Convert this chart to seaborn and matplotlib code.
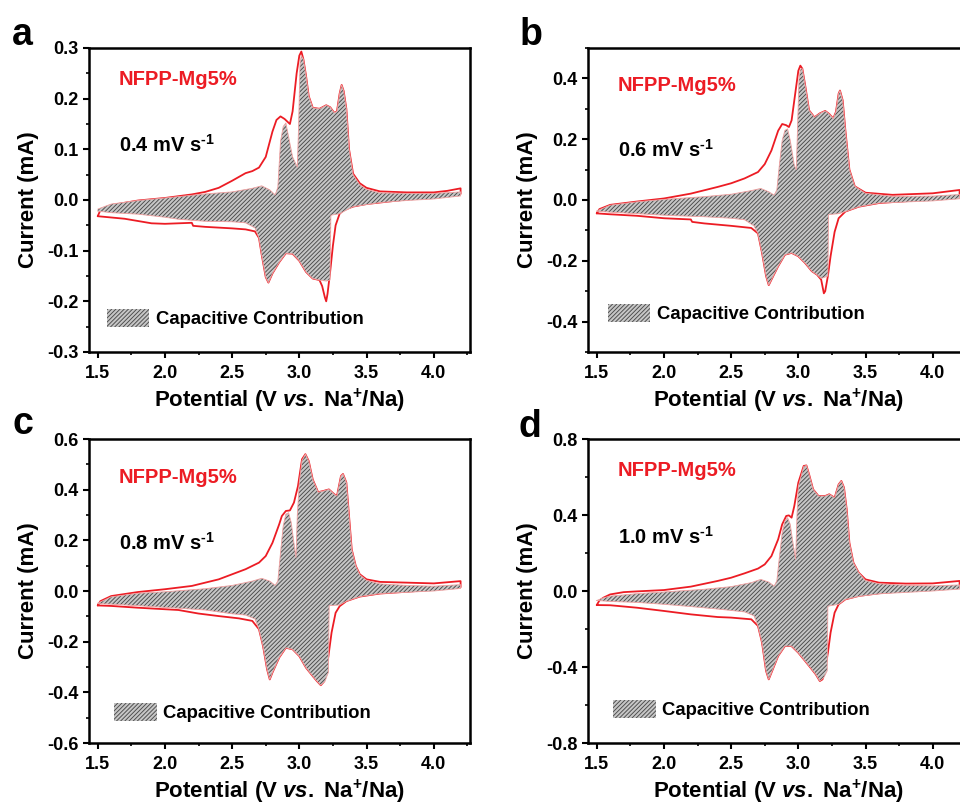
import matplotlib
matplotlib.use("Agg")
import matplotlib.pyplot as plt
import seaborn as sns
from matplotlib.patches import Patch
from matplotlib.ticker import MultipleLocator, FormatStrFormatter

# ---------------- CV data (potential in V, current in mA) ----------------
# Each loop: anodic sweep 1.5 -> 4.2 V followed by cathodic sweep 4.2 -> 1.5 V.

# 0.4 mV s-1
a_cv_v = [1.50, 1.52, 1.60, 1.80, 2.00, 2.20, 2.30, 2.40, 2.50, 2.60, 2.65, 2.70, 2.75, 2.80,
          2.83, 2.86, 2.89, 2.93, 2.95, 2.98, 3.00, 3.015, 3.03, 3.05, 3.07, 3.10, 3.15, 3.20,
          3.23, 3.26, 3.28, 3.30, 3.315, 3.33, 3.35, 3.37, 3.40, 3.45, 3.50, 3.60, 3.80, 4.00,
          4.10, 4.20,
          4.20, 4.00, 3.80, 3.60, 3.50, 3.40, 3.33, 3.30, 3.27, 3.25, 3.23, 3.21, 3.20, 3.19,
          3.17, 3.15, 3.10, 3.05, 3.00, 2.95, 2.90, 2.85, 2.80, 2.77, 2.75, 2.72, 2.70, 2.67,
          2.60, 2.50, 2.30, 2.21, 2.20, 2.00, 1.90, 1.70, 1.50]
a_cv_i = [-0.032, -0.020, -0.010, -0.001, 0.004, 0.011, 0.016, 0.024, 0.038, 0.053, 0.057, 0.064,
          0.085, 0.135, 0.158, 0.165, 0.160, 0.150, 0.175, 0.250, 0.285, 0.293, 0.278, 0.245,
          0.205, 0.182, 0.180, 0.187, 0.183, 0.172, 0.175, 0.210, 0.227, 0.215, 0.180, 0.100,
          0.052, 0.033, 0.024, 0.017, 0.015, 0.015, 0.018, 0.023,
          0.012, 0.006, 0.001, -0.005, -0.008, -0.013, -0.020, -0.027, -0.050, -0.090, -0.140,
          -0.185, -0.200, -0.192, -0.170, -0.158, -0.155, -0.142, -0.120, -0.106, -0.105,
          -0.123, -0.145, -0.163, -0.152, -0.108, -0.075, -0.062, -0.058, -0.056, -0.053,
          -0.051, -0.045, -0.047, -0.046, -0.037, -0.032]
a_cap_v = [1.50, 1.60, 1.80, 2.00, 2.30, 2.50, 2.65, 2.72, 2.78, 2.82, 2.84, 2.86, 2.88, 2.90,
           2.92, 2.95, 2.985, 2.995, 3.005, 3.015, 3.03, 3.05, 3.07, 3.10, 3.15, 3.20, 3.23,
           3.26, 3.28, 3.30, 3.315, 3.33, 3.35, 3.37, 3.40, 3.45, 3.50, 3.60, 3.80, 4.00, 4.20,
           4.20, 4.00, 3.80, 3.60, 3.40, 3.30, 3.235, 3.228, 3.20, 3.15, 3.10, 3.05, 3.00,
           2.95, 2.90, 2.85, 2.80, 2.77, 2.75, 2.72, 2.70, 2.67, 2.60, 2.50, 2.30, 2.10, 2.00,
           1.80, 1.60, 1.50]
a_cap_i = [-0.018, -0.008, -0.001, 0.004, 0.012, 0.016, 0.023, 0.028, 0.020, 0.010, 0.025,
           0.115, 0.145, 0.152, 0.125, 0.085, 0.065, 0.150, 0.270, 0.285, 0.278, 0.245, 0.205,
           0.182, 0.180, 0.187, 0.183, 0.172, 0.175, 0.210, 0.227, 0.215, 0.180, 0.100, 0.050,
           0.030, 0.021, 0.014, 0.013, 0.013, 0.016,
           0.008, 0.002, -0.001, -0.005, -0.013, -0.027, -0.030, -0.158, -0.160, -0.158,
           -0.155, -0.142, -0.120, -0.106, -0.105, -0.123, -0.145, -0.163, -0.152, -0.108,
           -0.075, -0.055, -0.045, -0.043, -0.042, -0.038, -0.034, -0.028, -0.025, -0.022]

# 0.6 mV s-1
b_cv_v = [1.50, 1.52, 1.60, 1.80, 2.00, 2.20, 2.40, 2.50, 2.60, 2.70, 2.75, 2.80, 2.85, 2.88,
          2.91, 2.93, 2.95, 2.98, 3.00, 3.015, 3.03, 3.05, 3.08, 3.12, 3.16, 3.20, 3.23, 3.26,
          3.28, 3.30, 3.31, 3.33, 3.35, 3.38, 3.42, 3.50, 3.70, 4.00, 4.20,
          4.20, 4.00, 3.80, 3.60, 3.45, 3.35, 3.30, 3.27, 3.24, 3.22, 3.20, 3.19, 3.17, 3.14,
          3.10, 3.05, 3.00, 2.95, 2.90, 2.85, 2.80, 2.78, 2.76, 2.73, 2.70, 2.65, 2.50, 2.30,
          2.21, 2.20, 2.00, 1.80, 1.60, 1.50]
b_cv_i = [-0.044, -0.030, -0.016, -0.005, 0.005, 0.021, 0.043, 0.055, 0.071, 0.092, 0.118,
          0.163, 0.228, 0.250, 0.246, 0.240, 0.262, 0.360, 0.425, 0.442, 0.432, 0.380, 0.295,
          0.272, 0.285, 0.293, 0.283, 0.268, 0.290, 0.350, 0.360, 0.328, 0.230, 0.100, 0.045,
          0.024, 0.017, 0.022, 0.033,
          0.012, 0.004, -0.004, -0.010, -0.022, -0.038, -0.060, -0.105, -0.185, -0.250, -0.300,
          -0.307, -0.262, -0.246, -0.234, -0.207, -0.185, -0.174, -0.180, -0.218, -0.262,
          -0.280, -0.250, -0.174, -0.110, -0.092, -0.085, -0.077, -0.072, -0.064, -0.060,
          -0.052, -0.047, -0.044]
b_cap_v = [1.50, 1.60, 1.80, 2.00, 2.30, 2.50, 2.65, 2.72, 2.78, 2.82, 2.84, 2.86, 2.88, 2.90,
           2.92, 2.94, 2.97, 2.985, 2.995, 3.005, 3.015, 3.03, 3.05, 3.08, 3.12, 3.16, 3.20,
           3.23, 3.26, 3.28, 3.30, 3.31, 3.33, 3.35, 3.38, 3.42, 3.50, 3.70, 4.00, 4.20,
           4.20, 4.00, 3.60, 3.45, 3.35, 3.30, 3.225, 3.22, 3.19, 3.17, 3.14, 3.10, 3.05, 3.00,
           2.95, 2.90, 2.85, 2.80, 2.78, 2.76, 2.73, 2.70, 2.67, 2.60, 2.50, 2.30, 2.10, 2.00,
           1.80, 1.60, 1.50]
b_cap_i = [-0.036, -0.017, -0.006, 0.002, 0.011, 0.019, 0.031, 0.038, 0.027, 0.016, 0.033,
           0.120, 0.196, 0.229, 0.234, 0.196, 0.115, 0.100, 0.250, 0.400, 0.430, 0.432, 0.380,
           0.295, 0.272, 0.285, 0.293, 0.283, 0.268, 0.290, 0.350, 0.360, 0.328, 0.230, 0.100,
           0.045, 0.022, 0.012, 0.013, 0.018,
           0.004, -0.003, -0.010, -0.022, -0.038, -0.045, -0.048, -0.250, -0.255, -0.258,
           -0.246, -0.234, -0.207, -0.185, -0.174, -0.180, -0.218, -0.262, -0.280, -0.250,
           -0.174, -0.110, -0.085, -0.065, -0.060, -0.055, -0.052, -0.050, -0.045, -0.040,
           -0.037]

# 0.8 mV s-1
c_cv_v = [1.50, 1.52, 1.60, 1.80, 2.00, 2.20, 2.40, 2.50, 2.60, 2.70, 2.75, 2.80, 2.85, 2.87,
          2.90, 2.93, 2.96, 2.99, 3.02, 3.045, 3.07, 3.10, 3.14, 3.18, 3.22, 3.26, 3.28, 3.31,
          3.325, 3.35, 3.37, 3.39, 3.42, 3.45, 3.50, 3.60, 3.80, 4.00, 4.20,
          4.20, 4.00, 3.80, 3.60, 3.45, 3.35, 3.30, 3.27, 3.24, 3.22, 3.20, 3.18, 3.16, 3.13,
          3.10, 3.05, 3.00, 2.95, 2.90, 2.85, 2.80, 2.78, 2.76, 2.73, 2.70, 2.65, 2.55, 2.40,
          2.25, 2.10, 2.00, 1.80, 1.60, 1.50]
c_cv_i = [-0.057, -0.040, -0.020, -0.004, 0.007, 0.020, 0.046, 0.066, 0.086, 0.112, 0.138,
          0.190, 0.263, 0.296, 0.316, 0.318, 0.349, 0.414, 0.520, 0.540, 0.513, 0.440, 0.390,
          0.395, 0.401, 0.382, 0.375, 0.454, 0.462, 0.428, 0.296, 0.164, 0.099, 0.066, 0.046,
          0.036, 0.033, 0.030, 0.039,
          0.015, 0.005, -0.003, -0.010, -0.022, -0.040, -0.060, -0.086, -0.164, -0.243, -0.322,
          -0.360, -0.372, -0.355, -0.336, -0.303, -0.257, -0.230, -0.224, -0.263, -0.322,
          -0.349, -0.309, -0.217, -0.151, -0.118, -0.108, -0.099, -0.089, -0.075, -0.072,
          -0.066, -0.059, -0.057]
c_cap_v = [1.50, 1.60, 1.80, 2.00, 2.30, 2.50, 2.65, 2.72, 2.78, 2.82, 2.84, 2.86, 2.88, 2.90,
           2.92, 2.94, 2.96, 2.975, 2.985, 3.00, 3.02, 3.045, 3.07, 3.10, 3.14, 3.18, 3.22,
           3.26, 3.28, 3.31, 3.325, 3.35, 3.37, 3.39, 3.42, 3.45, 3.50, 3.60, 3.80, 4.00, 4.20,
           4.20, 4.00, 3.60, 3.45, 3.35, 3.30, 3.222, 3.217, 3.19, 3.16, 3.13, 3.10, 3.05, 3.00,
           2.95, 2.90, 2.85, 2.80, 2.78, 2.76, 2.73, 2.70, 2.67, 2.60, 2.50, 2.30, 2.10, 2.00,
           1.80, 1.60, 1.50]
c_cap_i = [-0.048, -0.023, -0.009, -0.003, 0.009, 0.022, 0.039, 0.050, 0.039, 0.022, 0.039,
           0.151, 0.257, 0.303, 0.309, 0.270, 0.190, 0.132, 0.300, 0.430, 0.515, 0.540, 0.513,
           0.440, 0.390, 0.395, 0.401, 0.382, 0.375, 0.454, 0.462, 0.428, 0.296, 0.164, 0.099,
           0.064, 0.042, 0.028, 0.022, 0.019, 0.025,
           0.010, 0.000, -0.010, -0.022, -0.040, -0.055, -0.058, -0.320, -0.358, -0.372,
           -0.355, -0.336, -0.303, -0.257, -0.230, -0.224, -0.263, -0.322, -0.349, -0.309,
           -0.217, -0.151, -0.110, -0.095, -0.090, -0.075, -0.068, -0.065, -0.058, -0.052,
           -0.050]

# 1.0 mV s-1
d_cv_v = [1.50, 1.52, 1.55, 1.60, 1.70, 1.80, 2.00, 2.20, 2.40, 2.50, 2.60, 2.70, 2.75, 2.80,
          2.85, 2.88, 2.91, 2.93, 2.95, 2.97, 3.00, 3.04, 3.06, 3.08, 3.11, 3.15, 3.20, 3.23,
          3.27, 3.30, 3.32, 3.34, 3.36, 3.38, 3.41, 3.45, 3.50, 3.60, 3.80, 4.00, 4.20,
          4.20, 4.00, 3.80, 3.60, 3.45, 3.35, 3.30, 3.27, 3.24, 3.22, 3.20, 3.18, 3.16, 3.13,
          3.10, 3.05, 3.00, 2.95, 2.90, 2.85, 2.80, 2.78, 2.76, 2.73, 2.70, 2.65, 2.50, 2.40,
          2.20, 2.00, 1.80, 1.60, 1.50]
d_cv_i = [-0.074, -0.050, -0.035, -0.018, -0.006, -0.002, 0.005, 0.023, 0.053, 0.070, 0.093,
          0.118, 0.140, 0.184, 0.272, 0.351, 0.395, 0.398, 0.386, 0.447, 0.570, 0.658, 0.661,
          0.614, 0.535, 0.500, 0.500, 0.509, 0.491, 0.561, 0.579, 0.544, 0.430, 0.254, 0.149,
          0.096, 0.061, 0.044, 0.039, 0.040, 0.053,
          0.020, 0.010, 0.000, -0.012, -0.026, -0.044, -0.070, -0.114, -0.219, -0.325, -0.412,
          -0.465, -0.474, -0.439, -0.412, -0.368, -0.325, -0.290, -0.290, -0.342, -0.430,
          -0.465, -0.421, -0.272, -0.184, -0.149, -0.140, -0.137, -0.123, -0.105, -0.088,
          -0.075, -0.074]
d_cap_v = [1.50, 1.55, 1.60, 1.80, 2.00, 2.30, 2.50, 2.65, 2.72, 2.78, 2.82, 2.84, 2.86, 2.88,
           2.90, 2.92, 2.94, 2.96, 2.98, 2.99, 3.00, 3.04, 3.06, 3.08, 3.11, 3.15, 3.20, 3.23,
           3.27, 3.30, 3.32, 3.34, 3.36, 3.38, 3.41, 3.45, 3.50, 3.60, 3.80, 4.00, 4.20,
           4.20, 4.00, 3.60, 3.45, 3.35, 3.30, 3.22, 3.215, 3.19, 3.16, 3.13, 3.10, 3.05, 3.00,
           2.95, 2.90, 2.85, 2.80, 2.78, 2.76, 2.73, 2.70, 2.67, 2.60, 2.40, 2.20, 2.00, 1.80,
           1.60, 1.50]
d_cap_i = [-0.050, -0.036, -0.027, -0.014, -0.005, 0.009, 0.023, 0.044, 0.061, 0.047, 0.026,
           0.053, 0.184, 0.307, 0.368, 0.386, 0.351, 0.254, 0.167, 0.400, 0.550, 0.655, 0.661,
           0.614, 0.535, 0.500, 0.500, 0.509, 0.491, 0.561, 0.579, 0.544, 0.430, 0.254, 0.149,
           0.096, 0.055, 0.038, 0.030, 0.027, 0.032,
           0.010, 0.000, -0.015, -0.028, -0.044, -0.070, -0.080, -0.420, -0.455, -0.474,
           -0.439, -0.412, -0.368, -0.325, -0.290, -0.290, -0.342, -0.430, -0.465, -0.421,
           -0.272, -0.184, -0.130, -0.110, -0.095, -0.082, -0.070, -0.060, -0.055, -0.050]

panel_letters = ["a", "b", "c", "d"]
scan_rates = ["0.4", "0.6", "0.8", "1.0"]
sample_name = "NFPP-Mg5%"
legend_text = "Capacitive Contribution"
x_label = r"Potential (V $\mathit{vs.}$ Na$^{\mathbf{+}}$/Na)"
y_label = "Current (mA)"

# ---------------- styling ----------------
sns.set_theme(style="ticks")
plt.rcParams.update({
    "font.family": ["Liberation Sans", "DejaVu Sans"],
    "font.weight": "bold",
    "axes.labelweight": "bold",
    "text.color": "black",
    "axes.labelcolor": "black",
    "xtick.color": "black",
    "ytick.color": "black",
    "axes.edgecolor": "black",
    "mathtext.fontset": "custom",
    "mathtext.rm": "Liberation Sans:bold",
    "mathtext.bf": "Liberation Sans:bold",
    "mathtext.it": "Liberation Sans:italic:bold",
    "mathtext.default": "bf",
    "axes.unicode_minus": False,
    "hatch.linewidth": 0.65,
    "hatch.color": "#4a4a4a",
})

RED = "#ec1c24"
FILL = "#c6c6c6"
HATCH_COLOR = "#4a4a4a"
HATCH = "////////"

W, H = 960, 808
fig = plt.figure(figsize=(W / 100, H / 100), dpi=100)

# axes boxes in pixels: left, top, width, height
boxes = [(89, 48, 381, 304), (588, 48, 381, 304), (89, 439, 381, 304), (588, 439, 381, 304)]
ylims = [(-0.3, 0.3), (-0.5, 0.5), (-0.6, 0.6), (-0.8, 0.8)]
ymajor = [0.1, 0.2, 0.2, 0.4]
text_pos = [(0.079, 0.898, 0.681), (0.079, 0.878, 0.664), (0.079, 0.872, 0.658), (0.079, 0.895, 0.678)]
legend_anchor = [(0.047, 0.079), (0.052, 0.095), (0.066, 0.069), (0.066, 0.079)]
letter_pos = [(12, 45), (520, 45), (12, 434), (518, 437)]

datasets = [(a_cv_v, a_cv_i, a_cap_v, a_cap_i), (b_cv_v, b_cv_i, b_cap_v, b_cap_i),
            (c_cv_v, c_cv_i, c_cap_v, c_cap_i), (d_cv_v, d_cv_i, d_cap_v, d_cap_i)]

for k in range(4):
    l, t, w, h = boxes[k]
    ax = fig.add_axes([l / W, 1 - (t + h) / H, w / W, h / H])
    cv_v, cv_i, cap_v, cap_i = datasets[k]

    sns.lineplot(x=cv_v, y=cv_i, sort=False, estimator=None, color=RED, lw=1.3, ax=ax, zorder=2)
    ax.fill(cap_v, cap_i, facecolor=FILL, edgecolor=HATCH_COLOR, hatch=HATCH, lw=0, zorder=3)
    ax.plot(cap_v, cap_i, color="#f0a0a0", lw=0.6, zorder=4)

    ax.set_xlim(1.435, 4.27)
    ax.set_ylim(*ylims[k])
    ax.xaxis.set_major_locator(MultipleLocator(0.5))
    ax.xaxis.set_minor_locator(MultipleLocator(0.25))
    ax.yaxis.set_major_locator(MultipleLocator(ymajor[k]))
    ax.yaxis.set_minor_locator(MultipleLocator(ymajor[k] / 2))
    ax.xaxis.set_major_formatter(FormatStrFormatter("%.1f"))
    ax.yaxis.set_major_formatter(FormatStrFormatter("%.1f"))
    ax.tick_params(which="major", direction="out", length=4.5, width=1.5, labelsize=13, pad=3)
    ax.tick_params(which="minor", direction="out", length=2.5, width=1.2)
    ax.tick_params(axis="x", which="major", pad=5)
    for lab in ax.get_xticklabels() + ax.get_yticklabels():
        lab.set_fontweight("bold")
    for sp in ax.spines.values():
        sp.set_visible(True)
        sp.set_linewidth(1.8)
        sp.set_color("black")

    ax.set_xlabel(x_label, fontsize=16, fontweight="bold", labelpad=3)
    ax.set_ylabel(y_label, fontsize=16, fontweight="bold", labelpad=6)

    tx, ty1, ty2 = text_pos[k]
    ax.text(tx, ty1, sample_name, color=RED, fontsize=14.5, fontweight="bold",
            transform=ax.transAxes, va="center", ha="left")
    ax.text(tx, ty2, f"{scan_rates[k]} mV s" + r"$^{\text{-1}}$", color="black", fontsize=14.5,
            fontweight="bold", transform=ax.transAxes, va="center", ha="left")

    handle = Patch(facecolor=FILL, edgecolor=HATCH_COLOR, hatch=HATCH, lw=0)
    ax.legend(handles=[handle], labels=[legend_text], loc="lower left",
              bbox_to_anchor=legend_anchor[k], borderaxespad=0, borderpad=0,
              frameon=False, handlelength=2.3, handleheight=1.1, handletextpad=0.35,
              prop={"size": 13.3, "weight": "bold"})

    lx, ly = letter_pos[k]
    fig.text(lx / W, 1 - ly / H, panel_letters[k], fontsize=27, fontweight="bold",
             ha="left", va="baseline")

fig.savefig("out.png", dpi=100)
